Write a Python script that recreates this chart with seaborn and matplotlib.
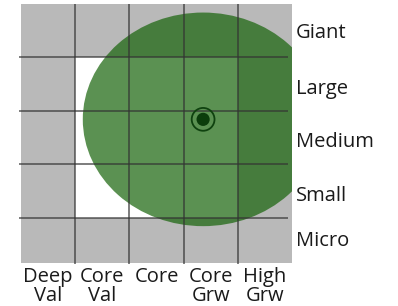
import numpy as np
import pandas as pd
import seaborn as sns
import matplotlib
matplotlib.use("Agg")
import matplotlib.pyplot as plt
from matplotlib.colors import ListedColormap
from matplotlib.patches import Ellipse

# ---- data ----
style_labels = ["Deep\nVal", "Core\nVal", "Core", "Core\nGrw", "High\nGrw"]
size_labels = ["Giant", "Large", "Medium", "Small", "Micro"]
# 1 = outer (gray) zone, 0 = core (white) zone; rows top (Giant) to bottom (Micro)
zone_rows = [
    [1, 1, 1, 1, 1],
    [1, 0, 0, 0, 1],
    [1, 0, 0, 0, 1],
    [1, 0, 0, 0, 1],
    [1, 1, 1, 1, 1],
]
centroid_style = [3.36]   # position along style axis (cells)
centroid_size = [2.16]    # position along size axis from top (cells)
zone_width = [4.44]       # ownership zone width (cells)
zone_height = [4.0]       # ownership zone height (cells)

sns.set_style("white")
plt.rcParams["font.family"] = ["Open Sans", "DejaVu Sans"]

fig = plt.figure(figsize=(3.98, 3.06), dpi=100)
ax = fig.add_axes([21 / 398, 43 / 306, 271 / 398, 259 / 306])

df = pd.DataFrame(zone_rows, index=size_labels, columns=style_labels)
sns.heatmap(df, cmap=ListedColormap(["#ffffff", "#b9b9b9"]), cbar=False,
            linewidths=0, ax=ax, vmin=0, vmax=1)

ell = Ellipse((centroid_style[0], centroid_size[0]), zone_width[0], zone_height[0],
              facecolor="#166308", alpha=0.7, edgecolor="none", zorder=3)
ax.add_patch(ell)

ax.hlines(np.arange(1, 5), -0.03, 4.93, color="#333333", lw=1.2, alpha=0.75,
          zorder=4, clip_on=False)
ax.vlines(np.arange(1, 5), 0, 4.87, color="#333333", lw=1.2, alpha=0.75,
          zorder=4, clip_on=False)

pts = pd.DataFrame({"x": centroid_style, "y": centroid_size})
sns.scatterplot(data=pts, x="x", y="y", ax=ax, s=270, facecolor="none",
                edgecolor="#0f420f", linewidth=1.3, zorder=5, legend=False)
sns.scatterplot(data=pts, x="x", y="y", ax=ax, s=90, color="#0b3d0b",
                edgecolor="none", zorder=6, legend=False)

ax.set_xlim(0, 5)
ax.set_ylim(4.85, 0)
ax.set_xlabel("")
ax.set_ylabel("")
ax.yaxis.tick_right()
ax.set_yticks([0.5, 1.54, 2.54, 3.55, 4.4])
ax.set_yticklabels(size_labels, rotation=0, fontsize=14.5, color="#1a1a1a")
ax.set_xticks(np.arange(5) + 0.5)
ax.set_xticklabels(style_labels, rotation=0, fontsize=14.5, color="#1a1a1a",
                   linespacing=0.92)
ax.tick_params(axis="y", length=0, pad=3)
ax.tick_params(axis="x", length=0, pad=3)
for s in ax.spines.values():
    s.set_visible(False)

fig.savefig("out.png", dpi=100)
